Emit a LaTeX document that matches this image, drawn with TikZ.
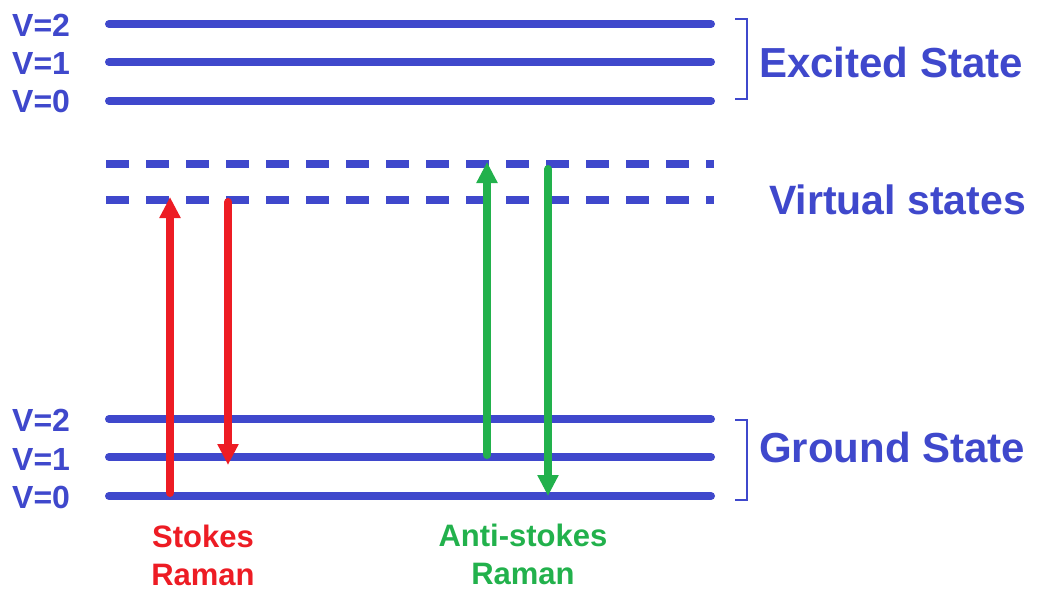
\documentclass[tikz,border=0pt]{standalone}
\usepackage{fontspec}
\setmainfont{Liberation Sans}
\usetikzlibrary{arrows.meta}
\definecolor{lvlblue}{RGB}{63,72,204}
\definecolor{ramred}{RGB}{237,28,36}
\definecolor{ramgreen}{RGB}{34,177,76}
\tikzset{
  level/.style={draw=lvlblue, line width=8pt, line cap=round},
  virtual/.style={draw=lvlblue, line width=8pt, dash pattern=on 23pt off 17pt},
  vlabel/.style={anchor=west, inner sep=0pt, text=lvlblue, font=\fontsize{32}{36}\selectfont\bfseries},
  statelabel/.style={anchor=west, inner sep=0pt, text=lvlblue, font=\fontsize{42}{48}\selectfont\bfseries},
  ramlabel/.style={anchor=north, inner sep=0pt, align=center, font=\fontsize{31}{38}\selectfont\bfseries},
  bracket/.style={draw=lvlblue, line width=1.5pt},
  transition/.style={line width=8pt, line cap=round, -{Triangle[width=20pt,length=21pt]}},
}
\begin{document}
\begin{tikzpicture}[x=1pt,y=-1pt]
\useasboundingbox (0,0) rectangle (1037,592);
% level end points
\foreach \n/\y in {e2/24, e1/62, e0/101, g2/419, g1/457, g0/496} {
  \coordinate (\n L) at (109,\y);
  \coordinate (\n R) at (711,\y);
}
\coordinate (v1L) at (106,164); \coordinate (v1R) at (714,164);
\coordinate (v0L) at (106,200); \coordinate (v0R) at (714,200);

\foreach \n in {e2,e1,e0,g2,g1,g0} { \draw[level] (\n L) -- (\n R); }
\draw[virtual] (v1L) -- (v1R);
\draw[virtual] (v0L) -- (v0R);

% V labels
\node[vlabel] (le2) at (12,25) {V=2};
\node[vlabel] (le1) at (12,63) {V=1};
\node[vlabel] (le0) at (12,101) {V=0};
\node[vlabel] (lg2) at (12,420) {V=2};
\node[vlabel] (lg1) at (12,459) {V=1};
\node[vlabel] (lg0) at (12,497) {V=0};

% brackets
\coordinate (be1) at (735,19); \coordinate (be2) at (747,19);
\coordinate (be3) at (747,99); \coordinate (be4) at (735,99);
\draw[bracket] (be1) -- (be2) -- (be3) -- (be4);
\coordinate (bg1) at (735,420); \coordinate (bg2) at (747,420);
\coordinate (bg3) at (747,500); \coordinate (bg4) at (735,500);
\draw[bracket] (bg1) -- (bg2) -- (bg3) -- (bg4);

% state labels
\node[statelabel] (exc) at (759,62) {Excited State};
\node[statelabel, font=\fontsize{41}{48}\selectfont\bfseries] (virt) at (769,200) {Virtual states};
\node[statelabel] (gnd) at (759,447) {Ground State};

% transitions
\coordinate (s1a) at (170,493); \coordinate (s1b) at (170,197);
\coordinate (s2a) at (228,202); \coordinate (s2b) at (228,465);
\coordinate (a1a) at (487,455); \coordinate (a1b) at (487,162);
\coordinate (a2a) at (548,169); \coordinate (a2b) at (548,496);
\draw[transition, ramred] (s1a) -- (s1b);
\draw[transition, ramred] (s2a) -- (s2b);
\draw[transition, ramgreen] (a1a) -- (a1b);
\draw[transition, ramgreen] (a2a) -- (a2b);

% Raman labels
\node[ramlabel, text=ramred] (stokes) at (203,525) {Stokes\\Raman};
\node[ramlabel, text=ramgreen] (anti) at (523,524) {Anti-stokes\\Raman};
\end{tikzpicture}
\end{document}
